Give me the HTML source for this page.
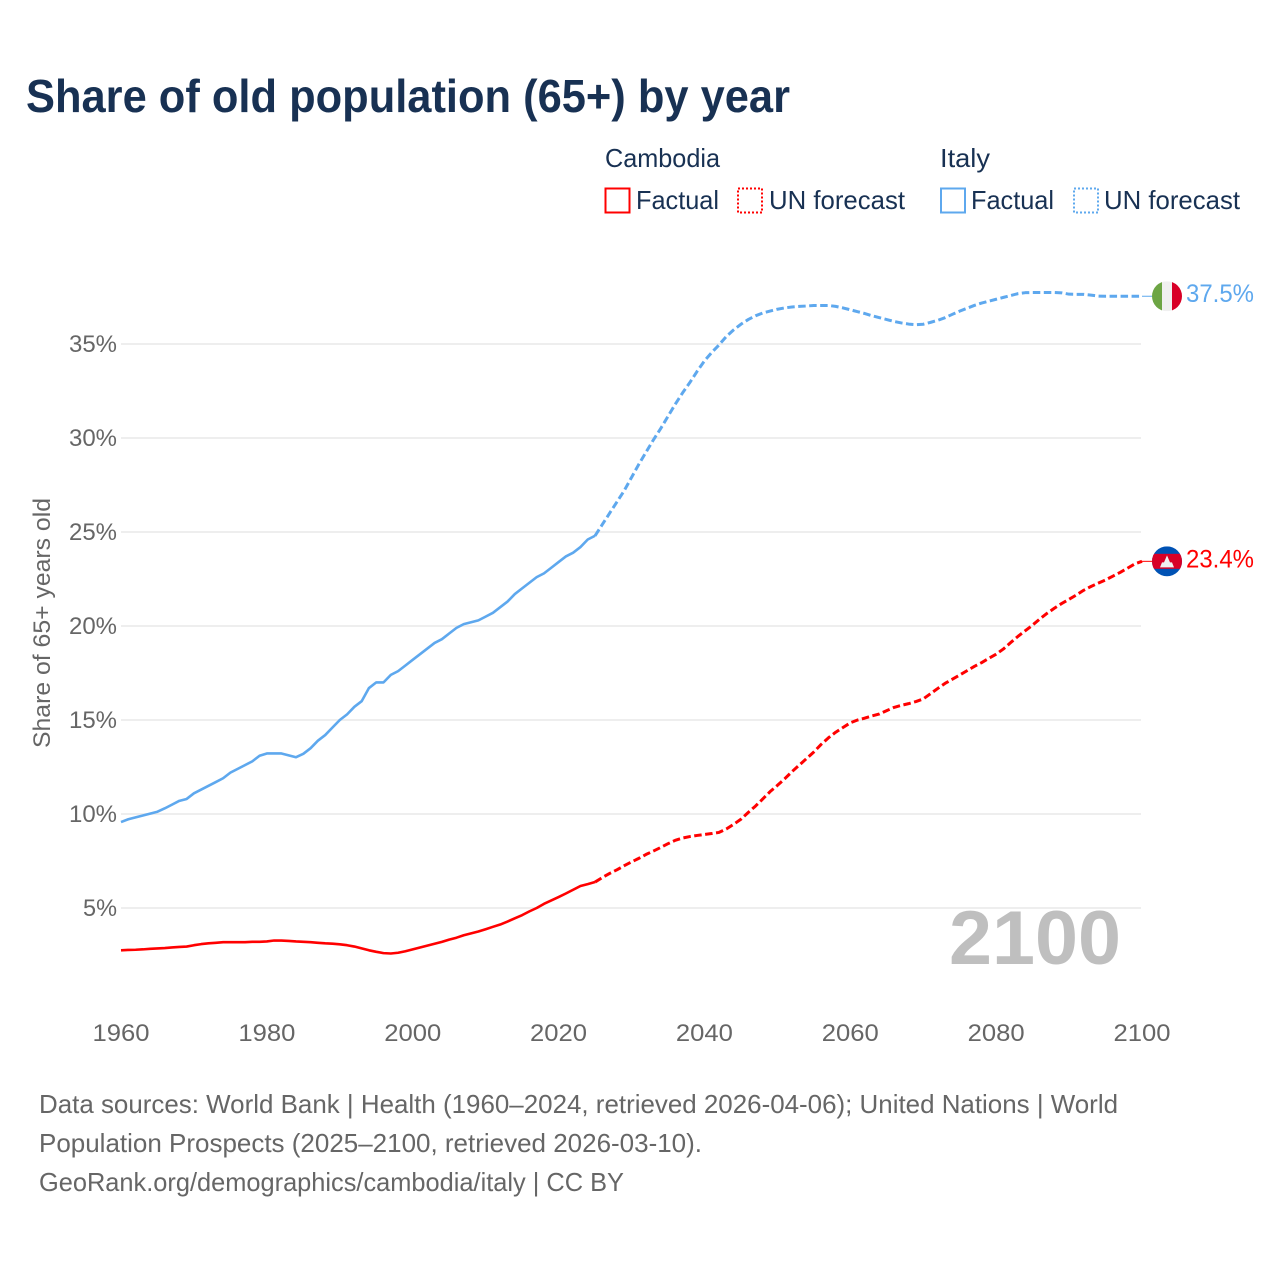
<!DOCTYPE html>
<html lang="en">
<head>
<meta charset="utf-8">
<title>Share of old population (65+) by year</title>
<style>
html,body{margin:0;padding:0;background:#fff;}
svg{display:block;font-family:"Liberation Sans",sans-serif;}
</style>
</head>
<body>
<svg id="chart" width="1280" height="1280" viewBox="0 0 1280 1280" xmlns="http://www.w3.org/2000/svg">
  <rect x="0" y="0" width="1280" height="1280" fill="#ffffff"/>
  <text x="26" y="112" font-size="46" font-weight="700" fill="#183153" textLength="764" lengthAdjust="spacingAndGlyphs">Share of old population (65+) by year</text>

  <g>
    <text x="605" y="167" font-size="26" fill="#183153" textLength="115" lengthAdjust="spacingAndGlyphs">Cambodia</text>
    <rect x="605.5" y="188.5" width="24" height="24" fill="none" stroke="#ff0000" stroke-width="2"/>
    <text x="636" y="209" font-size="26" fill="#183153" textLength="83" lengthAdjust="spacingAndGlyphs">Factual</text>
    <rect x="738" y="188.5" width="24" height="24" fill="none" stroke="#ff0000" stroke-width="2" stroke-dasharray="2 2"/>
    <text x="769" y="209" font-size="26" fill="#183153" textLength="136" lengthAdjust="spacingAndGlyphs">UN forecast</text>
    <text x="940" y="167" font-size="26" fill="#183153" textLength="50" lengthAdjust="spacingAndGlyphs">Italy</text>
    <rect x="941" y="188.5" width="24" height="24" fill="none" stroke="#5ea8ee" stroke-width="2"/>
    <text x="971" y="209" font-size="26" fill="#183153" textLength="83" lengthAdjust="spacingAndGlyphs">Factual</text>
    <rect x="1074" y="188.5" width="24" height="24" fill="none" stroke="#5ea8ee" stroke-width="2" stroke-dasharray="2 2"/>
    <text x="1104" y="209" font-size="26" fill="#183153" textLength="136" lengthAdjust="spacingAndGlyphs">UN forecast</text>
  </g>

  <g id="grid"></g>
  <g id="y-ticks"></g>
  <g id="x-ticks"></g>
  <text transform="translate(50,623) rotate(-90)" text-anchor="middle" font-size="24" fill="#666666" textLength="250" lengthAdjust="spacingAndGlyphs">Share of 65+ years old</text>

  <text x="949" y="964" font-size="76" font-weight="700" fill="#bfbfbf" textLength="172" lengthAdjust="spacingAndGlyphs">2100</text>

  <g id="series"></g>
  <g id="end-markers"></g>

  <g>
    <text x="39" y="1113" font-size="26" fill="#666666" textLength="1079" lengthAdjust="spacingAndGlyphs">Data sources: World Bank | Health (1960–2024, retrieved 2026-04-06); United Nations | World</text>
    <text x="39" y="1152" font-size="26" fill="#666666" textLength="663" lengthAdjust="spacingAndGlyphs">Population Prospects (2025–2100, retrieved 2026-03-10).</text>
    <text x="39" y="1191" font-size="26" fill="#666666" textLength="585" lengthAdjust="spacingAndGlyphs">GeoRank.org/demographics/cambodia/italy | CC BY</text>
  </g>
</svg>
<script>
const yTicks = [5, 10, 15, 20, 25, 30, 35];
const xTicks = [1960, 1980, 2000, 2020, 2040, 2060, 2080, 2100];
const factualStartYear = 1960;
const forecastStartYear = 2025;

const italyFactual = [9.57,9.72,9.82,9.92,10.02,10.12,10.3,10.5,10.7,10.8,11.1,11.3,11.5,11.7,11.9,12.2,12.4,12.6,12.8,13.1,13.22,13.22,13.22,13.12,13.02,13.2,13.5,13.9,14.2,14.6,15.0,15.3,15.7,16.0,16.7,17.0,17.0,17.4,17.6,17.9,18.2,18.5,18.8,19.1,19.3,19.6,19.9,20.1,20.2,20.3,20.5,20.7,21.0,21.3,21.7,22.0,22.3,22.6,22.8,23.1,23.4,23.7,23.9,24.2,24.6,24.8];
const italyForecast = [24.8,25.4,26.0,26.6,27.2,27.9,28.6,29.25,29.9,30.5,31.15,31.8,32.4,32.95,33.55,34.1,34.55,34.95,35.4,35.75,36.05,36.3,36.5,36.65,36.75,36.85,36.92,36.97,37.0,37.02,37.05,37.05,37.05,37.0,36.92,36.82,36.72,36.62,36.5,36.4,36.3,36.2,36.12,36.06,36.03,36.05,36.15,36.26,36.4,36.58,36.75,36.9,37.05,37.18,37.28,37.38,37.48,37.58,37.68,37.73,37.74,37.74,37.74,37.74,37.72,37.65,37.64,37.64,37.6,37.55,37.54,37.54,37.54,37.54,37.54,37.54];
const cambodiaFactual = [2.75,2.77,2.78,2.8,2.83,2.85,2.87,2.9,2.93,2.95,3.02,3.08,3.12,3.15,3.18,3.18,3.18,3.18,3.2,3.2,3.22,3.27,3.27,3.25,3.22,3.2,3.18,3.15,3.12,3.1,3.07,3.02,2.95,2.85,2.75,2.67,2.6,2.58,2.62,2.7,2.8,2.9,3.0,3.1,3.2,3.32,3.42,3.55,3.65,3.75,3.87,4.0,4.12,4.28,4.45,4.62,4.82,5.0,5.22,5.4,5.58,5.77,5.97,6.17,6.27,6.38];
const cambodiaForecast = [6.38,6.62,6.84,7.03,7.25,7.45,7.64,7.85,8.03,8.22,8.42,8.6,8.72,8.8,8.86,8.91,8.96,9.02,9.2,9.45,9.72,10.08,10.42,10.8,11.19,11.52,11.87,12.25,12.6,12.95,13.3,13.7,14.05,14.35,14.6,14.85,15.0,15.1,15.22,15.32,15.5,15.67,15.78,15.87,15.98,16.12,16.4,16.68,16.95,17.17,17.39,17.62,17.85,18.05,18.28,18.5,18.78,19.12,19.45,19.75,20.05,20.38,20.68,20.95,21.2,21.42,21.65,21.9,22.1,22.28,22.45,22.65,22.85,23.07,23.3,23.44];

const SVG_NS = 'http://www.w3.org/2000/svg';
function xScale(year) { return 121 + (year - 1960) * (1142 - 121) / 140; }
function yScale(value) { return 1002 - value * 18.8; }
function linePath(values, startYear) {
  return values.map(function (v, i) {
    return (i ? 'L' : 'M') + xScale(startYear + i).toFixed(2) + ' ' + yScale(v).toFixed(2);
  }).join(' ');
}
function make(tag, attrs, parent) {
  const el = document.createElementNS(SVG_NS, tag);
  Object.keys(attrs).forEach(function (k) { el.setAttribute(k, attrs[k]); });
  parent.appendChild(el);
  return el;
}

const gridGroup = document.getElementById('grid');
const yGroup = document.getElementById('y-ticks');
const xGroup = document.getElementById('x-ticks');
const seriesGroup = document.getElementById('series');
const markerGroup = document.getElementById('end-markers');

yTicks.forEach(function (t) {
  const line = make('line', {x1: 121, x2: 1141, y1: yScale(t), y2: yScale(t), stroke: '#eeeeee', 'stroke-width': 2}, gridGroup);
  
  
  const label = make('text', {x: 117, y: yScale(t) + 8, 'text-anchor': 'end', 'font-size': 24, fill: '#666666', textLength: t < 10 ? 34 : 48, lengthAdjust: 'spacingAndGlyphs'}, yGroup);
  
  
  label.textContent = t + '%';
});

xTicks.forEach(function (t) {
  const label = make('text', {x: xScale(t), y: 1041, 'text-anchor': 'middle', 'font-size': 24, fill: '#666666', textLength: 57, lengthAdjust: 'spacingAndGlyphs'}, xGroup);
  
  
  label.textContent = t;
});

function drawSeries(factual, forecast, color, key) {
  const solid = make('path', {d: linePath(factual, factualStartYear), fill: 'none', stroke: color, 'stroke-width': 2.6, 'stroke-linejoin': 'round'}, seriesGroup);
  
  
  const dashed = make('path', {d: linePath(forecast, forecastStartYear), fill: 'none', stroke: color, 'stroke-width': 3, 'stroke-dasharray': '7.5 3.5', 'stroke-linejoin': 'round'}, seriesGroup);
  
  
  const last = forecast[forecast.length - 1];
  const leader = make('line', {x1: xScale(2100), x2: 1153, y1: yScale(last), y2: yScale(last), stroke: color, 'stroke-width': 1}, seriesGroup);
  
  
  const value = make('text', {x: 1186, y: yScale(last) + 6, 'font-size': 25, fill: color, textLength: 68, lengthAdjust: 'spacingAndGlyphs'}, markerGroup);
  
  
  value.textContent = last.toFixed(1) + '%';
  return yScale(last);
}

const italyY = drawSeries(italyFactual, italyForecast, '#5ea8ee', 'italy');
const cambodiaY = drawSeries(cambodiaFactual, cambodiaForecast, '#ff0000', 'cambodia');

const defs = make('defs', {}, markerGroup);
const clipA = make('clipPath', {id: 'clip-italy'}, defs);
make('circle', {cx: 1167, cy: italyY, r: 15}, clipA);
const clipB = make('clipPath', {id: 'clip-cambodia'}, defs);
make('circle', {cx: 1167, cy: cambodiaY, r: 15}, clipB);

const italyFlag = make('g', {'clip-path': 'url(#clip-italy)'}, markerGroup);


make('rect', {x: 1152, y: italyY - 15, width: 10, height: 30, fill: '#6da544'}, italyFlag);
make('rect', {x: 1162, y: italyY - 15, width: 10, height: 30, fill: '#f0f0f0'}, italyFlag);
make('rect', {x: 1172, y: italyY - 15, width: 10, height: 30, fill: '#d80027'}, italyFlag);

const cambodiaFlag = make('g', {'clip-path': 'url(#clip-cambodia)'}, markerGroup);


make('rect', {x: 1152, y: cambodiaY - 15, width: 30, height: 30, fill: '#0052b4'}, cambodiaFlag);
make('rect', {x: 1152, y: cambodiaY - 7.5, width: 30, height: 15, fill: '#d80027'}, cambodiaFlag);
make('polygon', {points: [1160, cambodiaY + 6, 1162, cambodiaY + 1, 1164, cambodiaY + 1, 1167, cambodiaY - 6, 1170, cambodiaY + 1, 1172, cambodiaY + 1, 1174, cambodiaY + 6].join(' '), fill: '#f0f0f0'}, cambodiaFlag);
</script>
</body>
</html>
